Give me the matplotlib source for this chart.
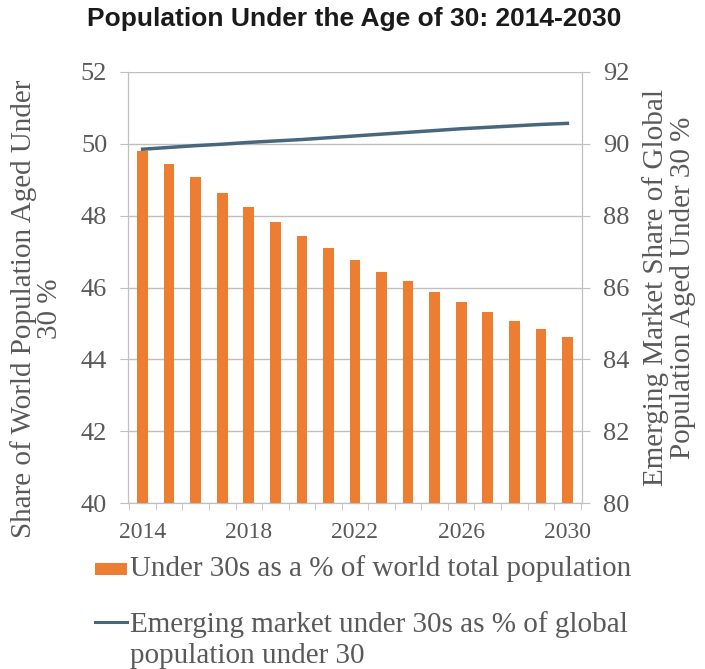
import matplotlib
matplotlib.use("Agg")
import matplotlib.pyplot as plt
from matplotlib.patches import Rectangle
from matplotlib.lines import Line2D
import numpy as np

years = [2014, 2015, 2016, 2017, 2018, 2019, 2020, 2021, 2022, 2023,
         2024, 2025, 2026, 2027, 2028, 2029, 2030]
under30_world = [49.81, 49.44, 49.07, 48.63, 48.24, 47.82, 47.42, 47.11, 46.76,
                 46.43, 46.17, 45.87, 45.61, 45.33, 45.08, 44.84, 44.61]
em_share = [89.85, 89.90, 89.95, 89.99, 90.04, 90.08, 90.12, 90.17, 90.22,
            90.27, 90.32, 90.37, 90.42, 90.46, 90.50, 90.54, 90.57]
xtick_labels = ["2014", "2018", "2022", "2026", "2030"]
left_ticks = [40, 42, 44, 46, 48, 50, 52]
right_ticks = [80, 82, 84, 86, 88, 90, 92]

title = "Population Under the Age of 30: 2014-2030"
left_label = "Share of World Population Aged Under\n30 %"
right_label = "Emerging Market Share of Global\nPopulation Aged Under 30 %"
bar_label = "Under 30s as a % of world total population"
line_label = "Emerging market under 30s as % of global\npopulation under 30"

orange = "#ED7D31"
line_col = "#48667C"
grid_col = "#BFBFBF"
txt = "#595959"
serif = ["Liberation Serif", "DejaVu Serif"]

W, H = 705, 669
fig = plt.figure(figsize=(W / 100, H / 100), dpi=100)
ax = fig.add_axes([128 / W, 1 - 503 / H, 454 / W, 431 / H])
ax2 = ax.twinx()

x = np.arange(len(years))
ax.bar(x, under30_world, width=0.4, color=orange, zorder=3)
ax2.plot(x, em_share, color=line_col, lw=2.5, zorder=4)

ax.set_xlim(-0.55, len(years) - 0.45)
ax.set_ylim(40, 52)
ax2.set_ylim(80, 92)
ax.set_yticks(left_ticks)
ax2.set_yticks(right_ticks)
ax.set_yticklabels([str(t) for t in left_ticks], family=serif, fontsize=19, color=txt)
ax2.set_yticklabels([str(t) for t in right_ticks], family=serif, fontsize=19, color=txt)

label_pos = [years.index(int(s)) for s in xtick_labels]
ax.set_xticks(label_pos)
ax.set_xticklabels(xtick_labels, family=serif, fontsize=17, color=txt)
ax.tick_params(axis="x", length=0, pad=14)
ax.set_xticks(np.arange(-0.5, len(years), 1.0), minor=True)
ax.tick_params(axis="x", which="minor", length=5, color=grid_col, direction="out")

ax.tick_params(axis="y", length=6, color=grid_col, pad=9)
ax2.tick_params(axis="y", length=6, color=grid_col, pad=9)

ax.grid(axis="y", color=grid_col, lw=1, zorder=0)
ax.set_axisbelow(True)
for a in (ax, ax2):
    a.spines["top"].set_visible(False)
    for s in ("left", "right", "bottom"):
        a.spines[s].set_color(grid_col)
    a.patch.set_visible(False)
ax.set_zorder(2)
ax2.set_zorder(3)

ax.set_ylabel(left_label, family=serif, fontsize=21, color=txt, linespacing=1.0)
ax.yaxis.set_label_coords(-0.143, 0.45)
ax2.set_ylabel(right_label, family=serif, fontsize=21, color=txt, linespacing=1.05,
               rotation=90)
ax2.yaxis.set_label_coords(1.133, 0.50)

fig.text(354 / W, 1 - 19 / H, title, ha="center", va="center", fontsize=19,
         fontweight="bold", family=["Liberation Sans", "DejaVu Sans"],
         color="#1a1a1a")

# legend (drawn in figure coordinates)
fig.patches.append(Rectangle((95 / W, 1 - 575 / H), 32 / W, 12 / H,
                             transform=fig.transFigure, facecolor=orange,
                             edgecolor="none"))
fig.text(130 / W, 1 - 569 / H, bar_label, ha="left", va="center",
         family=serif, fontsize=21, color=txt)
fig.lines.append(Line2D([95 / W, 127 / W], [1 - 622 / H, 1 - 622 / H],
                        transform=fig.transFigure, color=line_col, lw=2.2))
fig.text(130 / W, 1 - 611 / H, line_label, ha="left", va="top",
         family=serif, fontsize=21, color=txt, linespacing=1.27)

fig.savefig("out.png", dpi=100, facecolor="white")
